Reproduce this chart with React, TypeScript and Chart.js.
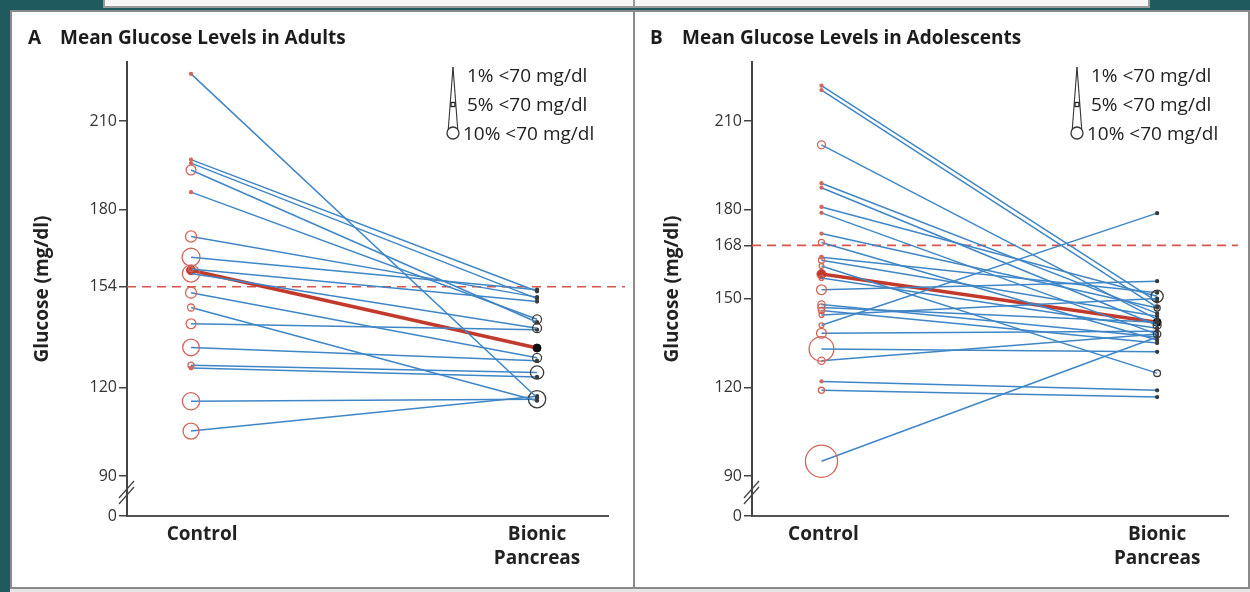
import React, { useEffect, useRef } from "react";
import { Chart, registerables } from "chart.js";
Chart.register(...registerables);

// ---------- data ----------
const categories: (string | string[])[] = ["Control", ["Bionic", "Pancreas"]];

const adultControl = [226, 197, 195.8, 193.5, 186, 171, 164, 160, 158.5, 152, 147, 141.5, 133.5, 127.5, 126.5, 115.3, 105.2];
const adultBionic = [116.5, 152.5, 150, 142, 143, 150.5, 153, 149, 140, 130, 115.5, 139.5, 129, 125, 123.5, 116, 117];
const adultControlHypo = [0.5, 0.5, 0.5, 6, 0.5, 7, 12.5, 2, 12, 7, 3.7, 6, 11.5, 3, 1, 12, 11];
const adultBionicHypo = [0.5, 0.5, 0.5, 0.5, 5.3, 0.5, 0.5, 0.5, 5.3, 5.3, 0.5, 0.5, 0.5, 8.8, 0.5, 12, 0.5];
const adultMean = [159.6, 133.3];
const adultTicks = [90, 120, 154, 180, 210];
const adultTarget = 154;

const teenControl = [222, 220.5, 202, 189, 187.5, 181, 179, 172, 169, 164, 163, 161, 157, 153, 148, 147, 146, 144.5, 141, 138.3, 133, 129, 122, 119, 95];
const teenBionic = [149, 147, 143, 145, 141, 150.8, 138, 146.8, 136, 152, 144, 124.8, 140, 155.9, 137, 142, 135, 150, 178.9, 139, 132, 138, 119, 116.7, 137];
const teenControlHypo = [0.5, 0.5, 4.5, 0.5, 0.5, 0.5, 0.5, 0.5, 3, 1, 3, 2, 2, 6, 4, 4, 3, 2, 2, 6, 18, 4, 0.5, 3, 24];
const teenBionicHypo = [0.5, 0.5, 0.5, 0.5, 4.5, 7.8, 4, 3, 0.5, 0.5, 0.5, 3.5, 0.5, 0.5, 0.5, 0.5, 0.5, 0.5, 0.5, 0.5, 0.5, 0.5, 0.5, 0.5, 0.5];
const teenMean = [158.3, 142];
const teenTicks = [90, 120, 150, 168, 180, 210];
const teenTarget = 168;

const legendLabels = ["1% <70 mg/dl", "5% <70 mg/dl", "10% <70 mg/dl"];

// ---------- styling ----------
const FONT = "'Open Sans', 'Liberation Sans', sans-serif";
const BLUE = "#3f86c6";
const RED = "#d0675c";
const MEANRED = "#c23a2b";
const DARK = "#3a3a3a";
const Y_MAX = 230;
const BREAK = 13.5;
const rad = (p: number) => 1.2 + 0.62 * p;

type PanelProps = {
  left: number;
  width: number;
  axisW: number;
  padRight: number;
  titlePad: number;
  control: number[];
  bionic: number[];
  cHypo: number[];
  bHypo: number[];
  mean: number[];
  ticks: number[];
  target: number;
  xMin: number;
  xMax: number;
  xTickPos: number[];
};

function Panel(p: PanelProps) {
  const ref = useRef<HTMLCanvasElement>(null);
  useEffect(() => {
    const yMin = p.ticks[0] - BREAK;
    const datasets: any[] = p.control.map((c, i) => {
      const rc = rad(p.cHypo[i]);
      const rb = rad(p.bHypo[i]);
      return {
        data: [
          { x: 0, y: c },
          { x: 1, y: p.bionic[i] },
        ],
        borderColor: BLUE,
        borderWidth: 1.5,
        pointRadius: [rc, rb],
        pointBorderColor: [RED, DARK],
        pointBackgroundColor: [rc < 2.2 ? RED : "rgba(255,255,255,0)", rb < 2.2 ? DARK : "rgba(255,255,255,0)"],
        pointBorderWidth: 1.3,
      };
    });
    datasets.push({
      data: [
        { x: 0, y: p.mean[0] },
        { x: 1, y: p.mean[1] },
      ],
      borderColor: MEANRED,
      borderWidth: 3.5,
      pointRadius: [4.5, 4],
      pointBorderColor: [MEANRED, "#111"],
      pointBackgroundColor: [MEANRED, "#111"],
      pointBorderWidth: 1,
    });

    const overlay = {
      id: "overlay",
      beforeDatasetsDraw(chart: any) {
        const { ctx, chartArea, scales } = chart;
        const yy = scales.y.getPixelForValue(p.target);
        ctx.save();
        ctx.strokeStyle = "#d9544a";
        ctx.lineWidth = 1.6;
        ctx.setLineDash([9, 6]);
        ctx.beginPath();
        ctx.moveTo(chartArea.left, yy);
        ctx.lineTo(chart.width - 8, yy);
        ctx.stroke();
        ctx.restore();
      },
      afterDraw(chart: any) {
        const { ctx, chartArea, scales } = chart;
        const y90 = scales.y.getPixelForValue(p.ticks[0]);
        const mid = (y90 + chartArea.bottom) / 2 - 4;
        ctx.save();
        ctx.strokeStyle = "#444";
        ctx.lineWidth = 1.3;
        for (const d of [-3, 3]) {
          ctx.beginPath();
          ctx.moveTo(chartArea.left - 8, mid + d + 9);
          ctx.lineTo(chartArea.left + 7, mid + d - 8);
          ctx.stroke();
        }
        ctx.restore();
      },
    };

    const chart = new Chart(ref.current as HTMLCanvasElement, {
      type: "line",
      data: { datasets },
      plugins: [overlay],
      options: {
        animation: false,
        responsive: false,
        maintainAspectRatio: false,
        devicePixelRatio: 1,
        clip: false,
        layout: { padding: { left: 0, right: p.padRight, top: 50, bottom: 0 } },
        plugins: { legend: { display: false }, tooltip: { enabled: false } },
        scales: {
          x: {
            type: "linear",
            min: p.xMin,
            max: p.xMax,
            afterBuildTicks: (s: any) => {
              s.ticks = p.xTickPos.map((v) => ({ value: v }));
            },
            afterFit: (s: any) => {
              s.height = 71;
            },
            grid: { display: false },
            border: { display: true, color: "#555", width: 2 },
            ticks: {
              autoSkip: false,
              maxRotation: 0,
              padding: -1,
              color: "#222",
              font: { family: FONT, size: 19, weight: "bold", lineHeight: 1.26 },
              callback: (_v: any, i: number) => categories[i] as any,
            },
          },
          y: {
            type: "linear",
            min: yMin,
            max: Y_MAX,
            afterBuildTicks: (s: any) => {
              s.ticks = [yMin, ...p.ticks].map((v) => ({ value: v }));
            },
            afterFit: (s: any) => {
              s.width = p.axisW;
            },
            grid: { display: true, drawOnChartArea: false, drawTicks: true, tickLength: 8, color: "#444", lineWidth: 1.5 },
            border: { display: true, color: "#444", width: 2 },
            ticks: {
              autoSkip: false,
              padding: 2,
              color: "#333",
              font: { family: FONT, size: 16 },
              callback: (v: any) => (v === yMin ? "0" : String(v)),
            },
            title: {
              display: true,
              text: "Glucose (mg/dl)",
              color: "#222",
              font: { family: FONT, size: 19, weight: "bold" },
              padding: { top: p.titlePad, bottom: 0 },
            },
          },
        },
      } as any,
    });
    return () => chart.destroy();
  }, []);
  return (
    <canvas
      ref={ref}
      width={p.width}
      height={575}
      style={{ position: "absolute", left: p.left, top: 12, width: p.width, height: 575 }}
    />
  );
}

function Legend({ x }: { x: number }) {
  const ys = [75, 104, 133];
  const dx = [0, 0, -4];
  return (
    <>
      <svg style={{ position: "absolute", left: x - 12, top: 60, width: 24, height: 84 }} viewBox="0 0 24 84">
        <line x1={12} y1={7} x2={7.3} y2={69} stroke="#333" strokeWidth={1.1} />
        <line x1={12} y1={7} x2={16.7} y2={69} stroke="#333" strokeWidth={1.1} />
        <rect x={10} y={42.5} width={4} height={4} fill="none" stroke="#222" strokeWidth={1.3} />
        <circle cx={12} cy={73} r={6} fill="white" stroke="#333" strokeWidth={1.3} />
      </svg>
      {legendLabels.map((t, i) => (
        <div
          key={t}
          style={{
            position: "absolute",
            left: x + 14 + dx[i],
            top: ys[i] - 13,
            height: 26,
            lineHeight: "26px",
            fontFamily: FONT,
            fontSize: 19,
            color: "#222",
            whiteSpace: "nowrap",
          }}
        >
          {t}
        </div>
      ))}
    </>
  );
}

function Title({ x, letter, text }: { x: number; letter: string; text: string }) {
  return (
    <div
      style={{
        position: "absolute",
        left: x,
        top: 24,
        fontFamily: FONT,
        fontWeight: "bold",
        fontSize: 19,
        color: "#1c1c1c",
        whiteSpace: "nowrap",
      }}
    >
      <span style={{ display: "inline-block", width: 32 }}>{letter}</span>
      {text}
    </div>
  );
}

export default function App() {
  return (
    <div style={{ position: "fixed", left: 0, top: 0, width: 1250, height: 592, background: "#1f5b5e", overflow: "hidden" }}>
      {/* top strip */}
      <div style={{ position: "absolute", left: 103, top: 0, width: 1043, height: 6, background: "#f7f7f7", borderBottom: "2px solid #9a9a9a", borderLeft: "2px solid #9a9a9a", borderRight: "2px solid #9a9a9a" }} />
      <div style={{ position: "absolute", left: 633, top: 0, width: 2, height: 8, background: "#9a9a9a" }} />
      {/* main sheet */}
      <div style={{ position: "absolute", left: 10, top: 10, width: 1240, height: 582, background: "#e6e6e6" }} />
      <div style={{ position: "absolute", left: 10, top: 10, width: 1236, height: 575, background: "#ffffff", border: "2px solid #8a8a8a" }} />
      <div style={{ position: "absolute", left: 633, top: 10, width: 2, height: 579, background: "#8a8a8a" }} />

      <Panel
        left={12}
        width={621}
        axisW={115}
        padRight={25}
        titlePad={19}
        control={adultControl}
        bionic={adultBionic}
        cHypo={adultControlHypo}
        bHypo={adultBionicHypo}
        mean={adultMean}
        ticks={adultTicks}
        target={adultTarget}
        xMin={-0.185}
        xMax={1.205}
        xTickPos={[0.032, 1]}
      />
      <Panel
        left={636}
        width={610}
        axisW={116}
        padRight={14}
        titlePad={25}
        control={teenControl}
        bionic={teenBionic}
        cHypo={teenControlHypo}
        bHypo={teenBionicHypo}
        mean={teenMean}
        ticks={teenTicks}
        target={teenTarget}
        xMin={-0.207}
        xMax={1.213}
        xTickPos={[0.006, 1]}
      />

      <Title x={28} letter="A" text="Mean Glucose Levels in Adults" />
      <Title x={650} letter="B" text="Mean Glucose Levels in Adolescents" />
      <Legend x={453} />
      <Legend x={1077} />
    </div>
  );
}
